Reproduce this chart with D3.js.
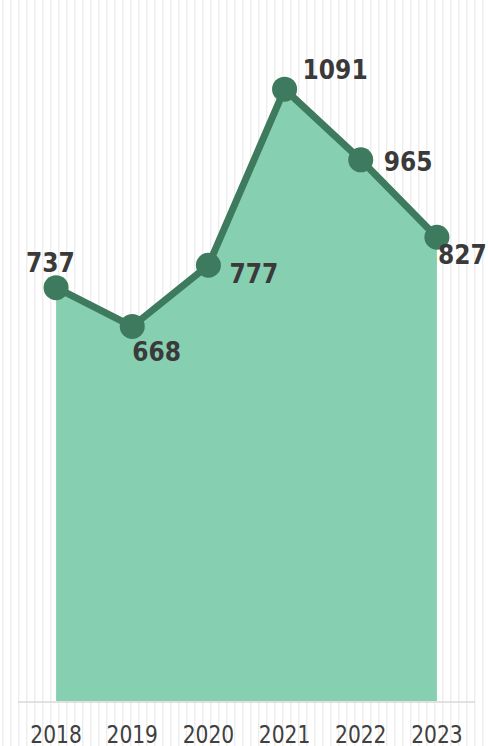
<html>
    <head>
        <title>Yearly totals</title>
        <style type="text/css">
            body{
                padding: 0px;
                margin: 0px;
                background: #ffffff;
            }
            svg{
                display: block;
            }
        </style>
        <script src="https://d3js.org/d3.v7.min.js"></script>
        <script type="text/javascript">
            // chart data
            var years = ["2018", "2019", "2020", "2021", "2022", "2023"];
            var totals = [737, 668, 777, 1091, 965, 827];

            var width = 488, height = 746;
            var baseY = 701;

            // where each value label sits relative to its point
            var labelPlace = [
                {dx: -30, dy: -16},
                {dx: 0, dy: 35},
                {dx: 21, dy: 18},
                {dx: 18, dy: -10},
                {dx: 23, dy: 11},
                {dx: 1, dy: 27}
            ];

            window.onload = function()
            {
                var svg = d3.select("body").append("svg")
                    .attr("width", width).attr("height", height);

                var data = years.map(function(y, i){ return {year: y, value: totals[i]}; });

                var x = d3.scaleBand().domain(years).range([18, 475]);
                var y = d3.scaleLinear().domain([0, 1250]).range([baseY, 0]);
                var cx = function(d){ return x(d.year) + x.bandwidth() / 2; };

                // striped background
                svg.append("g").selectAll("line").data(d3.range(2.7, width, 8)).enter().append("line")
                    .attr("x1", function(d){ return d; }).attr("x2", function(d){ return d; })
                    .attr("y1", 0).attr("y2", height)
                    .attr("stroke", "#ededed").attr("stroke-width", 1.4);

                var area = d3.area().x(cx).y0(baseY).y1(function(d){ return y(d.value); });
                svg.append("path").datum(data).attr("d", area).attr("fill", "#86cfb0");

                svg.append("line").attr("x1", 18).attr("x2", 475)
                    .attr("y1", baseY + 1).attr("y2", baseY + 1)
                    .attr("stroke", "#d9d9d9").attr("stroke-width", 1.4);

                var line = d3.line().x(cx).y(function(d){ return y(d.value); });
                svg.append("path").datum(data).attr("d", line)
                    .attr("fill", "none").attr("stroke", "#3e7a5e")
                    .attr("stroke-width", 7).attr("stroke-linejoin", "round");

                svg.selectAll("circle.pt").data(data).enter().append("circle")
                    .attr("class", "pt")
                    .attr("cx", cx).attr("cy", function(d){ return y(d.value); })
                    .attr("r", 12.5).attr("fill", "#3e7a5e");

                svg.selectAll("text.val").data(data).enter().append("text")
                    .attr("class", "val")
                    .attr("transform", function(d, i){
                        return "translate(" + (cx(d) + labelPlace[i].dx) + "," + (y(d.value) + labelPlace[i].dy) + ") scale(1,1.04)";
                    })
                    .attr("font-family", "'DejaVu Sans Condensed', 'DejaVu Sans', sans-serif")
                    .attr("font-weight", "bold").attr("font-size", 26)
                    .attr("fill", "#3a3a3a")
                    .text(function(d){ return d.value; });

                // x axis labels
                var axis = d3.axisBottom(x).tickSize(0).tickPadding(0);
                var g = svg.append("g").attr("transform", "translate(0," + baseY + ")").call(axis);
                g.select(".domain").remove();
                g.selectAll("text")
                    .attr("y", 0).attr("dy", 0)
                    .attr("transform", "translate(0,42) scale(1,1.1)")
                    .attr("font-family", "'DejaVu Sans Condensed', 'DejaVu Sans', sans-serif")
                    .attr("font-size", 22.5).attr("fill", "#404040");
            }
        </script>
    </head>
    <body>
    </body>
</html>
